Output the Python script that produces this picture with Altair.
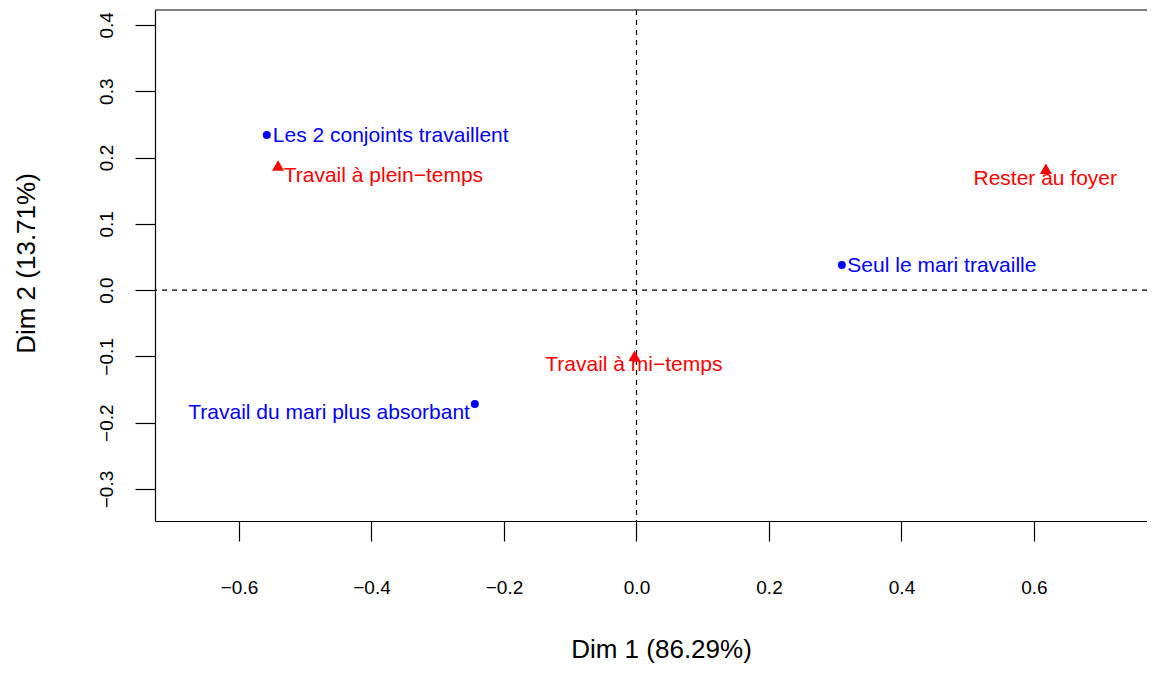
import altair as alt
import pandas as pd

# Correspondence analysis coordinates
row_names = ["Les 2 conjoints travaillent", "Seul le mari travaille", "Travail du mari plus absorbant"]
row_dim1 = [-0.558, 0.310, -0.244]
row_dim2 = [0.234, 0.038, -0.172]
# label anchors (auto-placed labels), in data units
row_lab1 = [-0.371, 0.461, -0.464]
row_lab2 = [0.233, 0.036, -0.186]

col_names = ["Travail à plein−temps", "Rester au foyer", "Travail à mi−temps"]
col_dim1 = [-0.541, 0.618, -0.003]
col_dim2 = [0.188, 0.183, -0.099]
col_lab1 = [-0.382, 0.617, -0.004]
col_lab2 = [0.172, 0.167, -0.113]

x_ticks = [-0.6, -0.4, -0.2, 0.0, 0.2, 0.4, 0.6]
y_ticks = [-0.3, -0.2, -0.1, 0.0, 0.1, 0.2, 0.3, 0.4]
x_title = "Dim 1 (86.29%)"
y_title = "Dim 2 (13.71%)"

rows = pd.DataFrame({"name": row_names, "d1": row_dim1, "d2": row_dim2,
                     "l1": row_lab1, "l2": row_lab2, "kind": "row"})
cols = pd.DataFrame({"name": col_names, "d1": col_dim1, "d2": col_dim2,
                     "l1": col_lab1, "l2": col_lab2, "kind": "col"})
allpts = pd.concat([rows, cols], ignore_index=True)
zero = pd.DataFrame({"v": [0.0]})

FONT = "Liberation Sans"
W, H = 992, 511

xscale = alt.Scale(domain=[-0.7268, 0.7706], nice=False, zero=False)
yscale = alt.Scale(domain=[-0.3483, 0.4225], nice=False, zero=False)

xaxis = alt.Axis(values=x_ticks, format=".1f", grid=False, tickSize=20, labelPadding=37,
                 labelFontSize=19, labelFont=FONT, labelColor="black", tickColor="black",
                 domainColor="black", labelFlush=False, labelOverlap=False,
                 title=x_title, titleFont=FONT, titleFontSize=26, titleFontWeight="normal",
                 titleColor="black", titleX=506, titleY=136, titleBaseline="alphabetic",
                 titleAlign="center")
yaxis = alt.Axis(values=y_ticks, format=".1f", grid=False, tickSize=20, labelPadding=19,
                 labelAngle=270, labelAlign="center", labelBaseline="bottom",
                 labelFontSize=19, labelFont=FONT, labelColor="black", tickColor="black",
                 domainColor="black", labelFlush=False, labelOverlap=False,
                 title=y_title, titleFont=FONT, titleFontSize=26, titleFontWeight="normal",
                 titleColor="black", titleAngle=270, titleX=-121, titleY=253,
                 titleBaseline="alphabetic", titleAlign="center")

base = alt.Chart(allpts)

pts_row = alt.Chart(rows).mark_point(shape="circle", filled=True, size=64, color="#0000FF",
                                     opacity=1).encode(
    x=alt.X("d1:Q", scale=xscale, axis=xaxis),
    y=alt.Y("d2:Q", scale=yscale, axis=yaxis),
)
pts_col = alt.Chart(cols).mark_point(shape="triangle-up", filled=True, size=144, color="#FF0000",
                                     opacity=1).encode(
    x=alt.X("d1:Q", scale=xscale),
    y=alt.Y("d2:Q", scale=yscale),
)
labels = base.mark_text(font=FONT, fontSize=21, align="center", baseline="middle").encode(
    x=alt.X("l1:Q", scale=xscale),
    y=alt.Y("l2:Q", scale=yscale),
    text="name:N",
    color=alt.Color("kind:N", scale=alt.Scale(domain=["row", "col"], range=["#0000FF", "#FF0000"]),
                    legend=None),
)
vline = alt.Chart(zero).mark_rule(color="black", strokeDash=[5, 5], strokeWidth=1.2).encode(
    x=alt.X("v:Q", scale=xscale))
hline = alt.Chart(zero).mark_rule(color="black", strokeDash=[5, 5], strokeWidth=1.2).encode(
    y=alt.Y("v:Q", scale=yscale))
top = alt.Chart(zero).mark_rule(color="black", strokeWidth=1.2).encode(
    x=alt.value(0), x2=alt.value(W), y=alt.value(0))

chart = alt.layer(vline, hline, top, pts_row, pts_col, labels).properties(
    width=W, height=H,
    autosize=alt.AutoSizeParams(type="none"),
    padding={"left": 147, "top": 2, "right": 0, "bottom": 144},
    background="white",
).configure_view(stroke=None).configure_axis(domainWidth=1.2, tickWidth=1.2)

chart.save("out.html", embed_options={"renderer": "svg", "actions": False})
